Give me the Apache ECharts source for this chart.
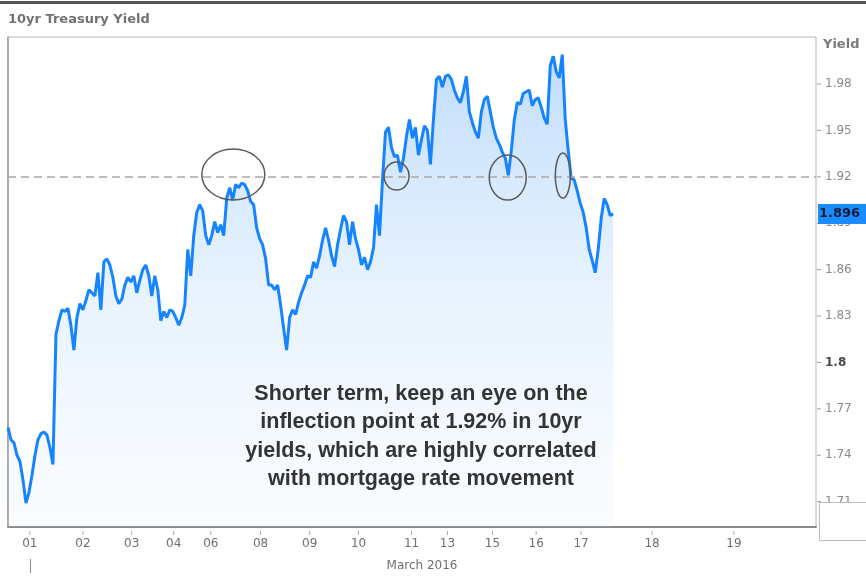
<!DOCTYPE html>
<html><head><meta charset="utf-8">
<script src="https://cdn.jsdelivr.net/npm/echarts@6/dist/echarts.min.js"></script>
<style>html,body{margin:0;padding:0;background:#fff}#c{width:866px;height:576px}</style>
</head><body><div id="c"></div>
<script>
// ---- data ----
const yields = [
1.758,1.750,1.748,1.740,1.736,1.724,1.709,1.716,1.727,1.740,
1.750,1.754,1.755,1.753,1.745,1.734,1.818,1.827,1.834,1.833,
1.835,1.824,1.808,1.829,1.838,1.834,1.840,1.847,1.845,1.843,
1.858,1.834,1.865,1.867,1.863,1.855,1.843,1.838,1.841,1.850,
1.855,1.852,1.856,1.845,1.853,1.860,1.863,1.856,1.843,1.856,
1.847,1.827,1.833,1.829,1.834,1.833,1.829,1.824,1.829,1.837,
1.873,1.856,1.882,1.897,1.902,1.898,1.882,1.876,1.882,1.891,
1.884,1.889,1.882,1.906,1.913,1.905,1.915,1.913,1.916,1.915,
1.911,1.904,1.902,1.887,1.880,1.876,1.867,1.850,1.850,1.847,
1.850,1.837,1.822,1.808,1.829,1.834,1.831,1.839,1.845,1.850,
1.856,1.855,1.865,1.861,1.869,1.879,1.887,1.879,1.869,1.862,
1.876,1.886,1.895,1.891,1.876,1.891,1.880,1.873,1.863,1.868,
1.860,1.865,1.874,1.902,1.882,1.918,1.949,1.952,1.939,1.933,
1.934,1.923,1.932,1.946,1.957,1.945,1.952,1.934,1.944,1.953,
1.950,1.928,1.957,1.983,1.985,1.978,1.985,1.986,1.983,1.976,
1.971,1.968,1.975,1.985,1.962,1.955,1.949,1.945,1.962,1.970,
1.972,1.962,1.952,1.945,1.941,1.936,1.932,1.921,1.937,1.957,
1.968,1.967,1.974,1.975,1.976,1.966,1.970,1.971,1.965,1.958,
1.954,1.992,1.998,1.988,1.984,1.999,1.957,1.937,1.919,1.918,
1.911,1.903,1.897,1.887,1.873,1.866,1.858,1.873,1.893,1.906,
1.902,1.895,1.896
];
const xTickPos    = [7.3,25,41.3,55.3,67.7,84.3,100.7,117,134.7,146.7,161.7,176.3,191.3,215,242.3];
const xTickLabels = ['01','02','03','04','06','08','09','10','11','13','15','16','17','18','19'];
const yTicks = [1.71,1.74,1.77,1.8,1.83,1.86,1.89,1.92,1.95,1.98];
const lastValue = 1.896;
const refLevel = 1.92;
const monthLabel = 'March 2016';
const titleText = '10yr Treasury Yield';
const axisName = 'Yield';
const noteLines = ['Shorter term, keep an eye on the','inflection point at 1.92% in 10yr','yields, which are highly correlated','with mortgage rate movement'];

// ---- chart ----
const chart = echarts.init(document.getElementById('c'), null, {renderer:'canvas'});
const seriesData = yields.map((v,i)=>[i,v]);
const fmtX = v => {
  let best = 0, d = 1e9;
  xTickPos.forEach((p,i)=>{ if (Math.abs(p-v)<d){d=Math.abs(p-v);best=i;} });
  return xTickLabels[best];
};
chart.setOption({
  animation:false,
  backgroundColor:'#ffffff',
  grid:{left:8,right:50,top:37,bottom:49,show:true,borderColor:'#b8b8b8',borderWidth:1,backgroundColor:'#fff',outerBoundsMode:'none'},
  xAxis:{
    type:'value',min:0,max:269.7,
    axisLine:{show:true,lineStyle:{color:'#8a8a8a',width:2}},
    axisTick:{show:false},
    axisLabel:{customValues:xTickPos,formatter:fmtX,color:'#6f6f6f',fontSize:12,margin:11,fontFamily:'DejaVu Sans'},
    splitLine:{show:false}
  },
  yAxis:{
    type:'value',position:'right',min:1.6936,max:2.0104,
    axisLine:{show:true,lineStyle:{color:'#9a9a9a',width:1.5}},
    axisTick:{show:false},
    axisLabel:{customValues:yTicks,
      formatter:v => Math.abs(v-1.8)<1e-6 ? '{b|1.8}' : v.toFixed(2),
      color:'#8a8a8a',fontSize:12,margin:9,fontFamily:'DejaVu Sans',
      rich:{b:{fontWeight:'bold',color:'#4a4a4a',fontSize:12,fontFamily:'DejaVu Sans'}}},
    splitLine:{show:false}
  },
  series:[{
    type:'line',data:seriesData,showSymbol:false,symbol:'none',
    lineStyle:{color:'#1784ff',width:3},
    areaStyle:{origin:'start',color:new echarts.graphic.LinearGradient(0,0,0,1,[
      {offset:0,color:'rgba(110,175,245,0.62)'},
      {offset:0.5,color:'rgba(150,200,250,0.32)'},
      {offset:1,color:'rgba(205,228,252,0.15)'}])},
    z:3,
    markLine:{silent:true,symbol:'none',label:{show:false},
      lineStyle:{color:'#a8a8a8',type:[8,5],width:1.5},
      data:[{yAxis:refLevel}]}
  }]
});

// ---- annotations ----
const ellipses = [
  {at:[75.2,1.9215], rx:31.5, ry:25.5},
  {at:[129.7,1.9205], rx:12.5, ry:14},
  {at:[166.8,1.9195], rx:18.5, ry:22.5},
  {at:[185.2,1.9208], rx:7.5, ry:22.5}
];
const g = [];
ellipses.forEach(e=>{
  const p = chart.convertToPixel({gridIndex:0}, e.at);
  g.push({type:'ellipse',shape:{cx:p[0],cy:p[1],rx:e.rx,ry:e.ry},
    style:{fill:null,stroke:'#5a5a5a',lineWidth:1.5},z:20});
});
// axis ticks
yTicks.forEach(v=>{
  const p = chart.convertToPixel({gridIndex:0},[269.7,v]);
  g.push({type:'line',shape:{x1:p[0]+1,y1:p[1],x2:p[0]+5,y2:p[1]},style:{stroke:'#9a9a9a',lineWidth:1},z:30});
});
xTickPos.forEach(t=>{
  const p = chart.convertToPixel({gridIndex:0},[t,1.6936]);
  g.push({type:'line',shape:{x1:p[0],y1:p[1]+4,x2:p[0],y2:p[1]+8},style:{stroke:'#a8a8a8',lineWidth:1},z:30});
});
const lastPx = chart.convertToPixel({gridIndex:0},[0,lastValue]);
const midX = chart.convertToPixel({gridIndex:0},[138.2,1.9])[0];
g.push(
  {type:'rect',shape:{x:0,y:1,width:866,height:3},style:{fill:'#555'},z:30},
  {type:'text',x:8,y:20,style:{text:titleText,font:'bold 13px "DejaVu Sans"',fill:'#727272',textVerticalAlign:'middle'},z:30},
  {type:'text',x:823,y:45,style:{text:axisName,font:'bold 13px "DejaVu Sans"',fill:'#7a7a7a',textVerticalAlign:'middle'},z:30},
  {type:'rect',shape:{x:818,y:lastPx[1]-10,width:48,height:20},style:{fill:'#1a8cff'},z:30},
  {type:'text',x:819,y:lastPx[1],style:{text:lastValue.toFixed(3),font:'bold 13px "DejaVu Sans"',fill:'#0b1d3a',textVerticalAlign:'middle'},z:31},
  {type:'rect',shape:{x:819.5,y:502.5,width:50,height:38},style:{fill:'#fff',stroke:'#bdbdbd',lineWidth:1},z:30},
  {type:'text',x:midX,y:566,style:{text:monthLabel,font:'12px "DejaVu Sans"',fill:'#6f6f6f',textAlign:'center',textVerticalAlign:'middle'},z:30},
  {type:'rect',shape:{x:30,y:559,width:1,height:14},style:{fill:'#888'},z:30},
  {type:'text',x:421,y:380,style:{text:noteLines.join('\n'),font:'bold 21.5px "Liberation Sans"',lineHeight:28.3,fill:'#333333',textAlign:'center',textVerticalAlign:'top'},z:25}
);
chart.setOption({graphic:g});
</script>
</body></html>
